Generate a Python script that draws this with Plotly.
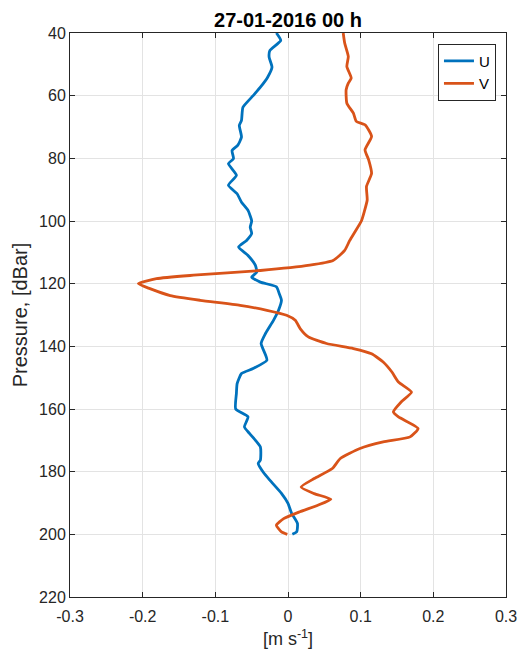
import plotly.graph_objects as go

# Velocity profiles (m/s) against pressure (dBar)
u_pressure = [40, 42.4, 45.6, 47.7, 50.9, 54.1, 57.3, 60, 63.7, 67.9, 69.5, 73.2, 75.8, 77.5,
              80.1, 81.7, 85.4, 88.6, 91.3, 94, 96.6, 100, 102, 104, 106.2, 108.3, 111, 114.1,
              116.3, 117.9, 119.5, 121, 123.2, 125.3, 128.5, 131.7, 135.9, 139.1, 144.4, 147.1,
              148.7, 151.9, 155, 160, 162.5, 165.7, 167.8, 172.1, 176.3, 177.4, 180.2, 182.7,
              186.9, 190.1, 193.3, 196.5, 199.2, 200]
u_values = [-0.016, -0.010, -0.025, -0.026, -0.022, -0.028, -0.038, -0.048, -0.062, -0.064,
            -0.067, -0.064, -0.069, -0.077, -0.075, -0.082, -0.071, -0.082, -0.070, -0.064,
            -0.055, -0.050, -0.052, -0.050, -0.057, -0.068, -0.055, -0.045, -0.043, -0.050,
            -0.038, -0.016, -0.012, -0.009, -0.013, -0.020, -0.031, -0.037, -0.029, -0.048,
            -0.064, -0.070, -0.071, -0.072, -0.055, -0.060, -0.053, -0.038, -0.038, -0.041,
            -0.034, -0.025, -0.009, 0.000, 0.005, 0.013, 0.012, 0.006]

v_pressure = [40, 43.2, 47.5, 50.7, 54.4, 56, 58.1, 62.4, 65.6, 68.2, 69.3, 73, 77.3, 80.5,
              84.8, 89, 93.3, 97, 100, 103.5, 106.2, 109.4, 112.6, 114.1, 115.8, 117.3, 118.4,
              120, 121.6, 123.8, 125.3, 126.9, 128.5, 130.1, 131.7, 134.4, 137, 139.1, 140.7,
              142.4, 145, 148.2, 151.4, 154.6, 157.7, 160.9, 162.5, 166.2, 168.9, 170.5, 172.6,
              175.8, 179, 182.2, 184.9, 187, 188.8, 190.7, 192.9, 195, 197.1, 199.2, 200]
v_values = [0.076, 0.078, 0.083, 0.081, 0.087, 0.083, 0.080, 0.081, 0.090, 0.094, 0.106,
            0.115, 0.106, 0.111, 0.115, 0.108, 0.109, 0.105, 0.101, 0.092, 0.085, 0.078,
            0.062, 0.030, -0.038, -0.130, -0.181, -0.206, -0.190, -0.162, -0.121, -0.066,
            -0.029, -0.002, 0.010, 0.017, 0.028, 0.053, 0.090, 0.115, 0.131, 0.143, 0.152,
            0.170, 0.156, 0.145, 0.152, 0.179, 0.168, 0.131, 0.099, 0.072, 0.061, 0.036,
            0.018, 0.036, 0.059, 0.041, 0.015, -0.006, -0.016, -0.009, -0.001]

x_ticks = [-0.3, -0.2, -0.1, 0, 0.1, 0.2, 0.3]
x_tick_labels = ["-0.3", "-0.2", "-0.1", "0", "0.1", "0.2", "0.3"]
y_ticks = [40, 60, 80, 100, 120, 140, 160, 180, 200, 220]

font = "Liberation Sans, Arial, sans-serif"
axis_color = "#262626"

fig = go.Figure()
fig.add_trace(go.Scatter(x=u_values, y=u_pressure, mode="lines", name="U",
                         line=dict(color="#0072BD", width=2.8, shape="spline", smoothing=0.5)))
fig.add_trace(go.Scatter(x=v_values, y=v_pressure, mode="lines", name="V",
                         line=dict(color="#D95319", width=2.8, shape="spline", smoothing=0.5)))

axis_common = dict(showline=True, linecolor=axis_color, linewidth=1, mirror="ticks",
                   ticks="inside", ticklen=5, tickcolor=axis_color, automargin=False,
                   showgrid=True, gridcolor="#e3e3e3", gridwidth=1, zeroline=False,
                   tickfont=dict(family=font, size=16, color=axis_color))

fig.update_layout(
    width=518, height=659,
    margin=dict(l=70, r=12, t=33, b=62),
    paper_bgcolor="white", plot_bgcolor="white",
    title=dict(text="<b>27-01-2016 00 h</b>", x=(70 + 218) / 518, xanchor="center",
               y=1 - 20 / 659, yanchor="middle",
               font=dict(family=font, size=20, color="#000000")),
    xaxis=dict(range=[-0.3, 0.3], tickvals=x_ticks, ticktext=x_tick_labels,
               ticklabelstandoff=5,
               title=dict(text="[m s<sup>-1</sup>]", standoff=8,
                          font=dict(family=font, size=18, color=axis_color)),
               **axis_common),
    yaxis=dict(range=[220, 40], tickvals=y_ticks,
               title=dict(text="Pressure, [dBar]", standoff=6,
                          font=dict(family=font, size=20, color=axis_color)),
               **axis_common),
    legend=dict(x=0.977, y=0.981, xanchor="right", yanchor="top",
                bgcolor="white", bordercolor=axis_color, borderwidth=1,
                font=dict(family=font, size=15, color="#000000"),
                tracegroupgap=0, itemwidth=30),
    showlegend=True,
)

fig.write_html("out.html")
